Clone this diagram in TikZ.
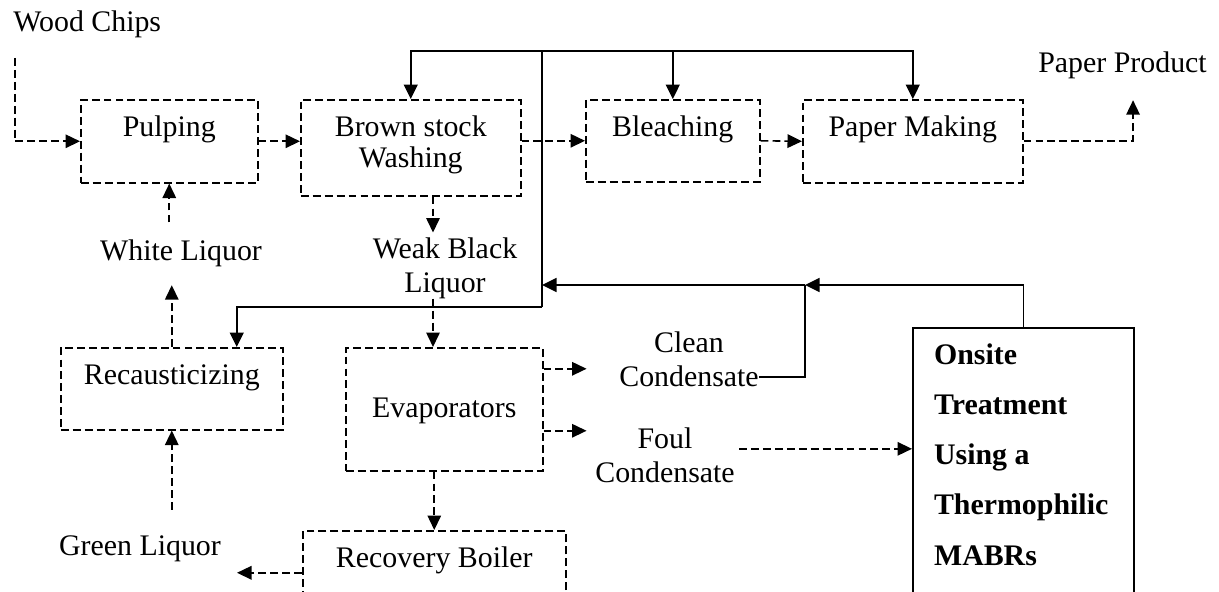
\documentclass[tikz,border=0pt]{standalone}
\usepackage{fontspec}
\setmainfont{Liberation Serif}
\usepackage{tikz}
\usetikzlibrary{arrows.meta, positioning}

\begin{document}
\begin{tikzpicture}[
    x=0.02cm, y=-0.02cm,
    font=\fontsize{17}{19.3}\selectfont,
    stage/.style={rectangle, draw, line width=0.9pt, dash pattern=on 4.5pt off 2.3pt,
                  inner sep=0pt, text height=0.74cm, anchor=north west, align=center},
    stream/.style={inner sep=0pt, anchor=base, align=center},
    treat/.style={rectangle, draw, line width=1.2pt, inner xsep=0.42cm, inner ysep=0pt,
                  anchor=north west, text width=3.58cm, align=flush left, text height=0.72cm,
                  text depth=5.2cm, font=\bfseries\fontsize{17}{28.6}\selectfont},
    flow/.style={-{Triangle[length=0.29cm, width=0.27cm]}, line width=0.9pt,
                 dash pattern=on 4.5pt off 2.3pt},
    pipe/.style={line width=0.9pt},
    feed/.style={pipe, -{Triangle[length=0.29cm, width=0.28cm]}}
  ]
    \path[use as bounding box] (0,0) rectangle (1219,591);
    \clip (0,0) rectangle (1219,591);

    % Process stages
    \node[stage, minimum width=3.54cm, text depth=0.92cm] (pulp)   at (80,99)   {Pulping};
    \node[stage, minimum width=4.4cm,  text height=1.36cm, text depth=0.56cm] (brown) at (300,99) {Brown stock\\[-1.5pt]Washing};
    \node[stage, minimum width=3.48cm, text depth=0.9cm]  (bleach) at (585,99)  {Bleaching};
    \node[stage, minimum width=4.4cm,  text depth=0.92cm] (paper)  at (802,99)  {Paper Making};
    \node[stage, minimum width=4.44cm, text depth=0.9cm]  (recaust) at (60,347) {Recausticizing};
    \node[stage, minimum width=3.94cm, text height=1.4cm, text depth=1.06cm] (evap) at (345,347) {Evaporators};
    \node[stage, minimum width=5.26cm, text depth=1.4cm]  (boiler) at (302,530) {Recovery Boiler};
    \node[treat] (onsite) at (912,327) {Onsite\\Treatment\\Using a\\Thermophilic\\MABRs};

    % Streams
    \node[stream, anchor=base west] (wood)    at (13,32)   {Wood Chips};
    \node[stream, anchor=base west] (product) at (1038,73) {Paper Product};
    \node[stream] (white) at (181,260) {White Liquor};
    \node[stream] (weak)  at (445,292) {Weak Black\\Liquor};
    \node[stream] (green) at (140,555) {Green Liquor};
    \node[stream] (clean) at (689,386) {Clean\\Condensate};
    \node[stream] (foul)  at (665,482) {Foul\\Condensate};

    \coordinate (chips) at (15,58);
    \coordinate (hub)   at (542,51);
    \coordinate (split) at (542,307);
    \coordinate (ret)   at (805,285);

    % Fibre line
    \draw[flow] (chips) |- (pulp.west);
    \draw[flow] (pulp.east) -- (pulp.east -| brown.west);
    \draw[flow] (bleach.west -| brown.east) -- (bleach.west);
    \draw[flow] (bleach.east) -- (paper.west);
    \draw[flow] (paper.east) -| ([xshift=0.21cm, yshift=-0.41cm]product.south);

    % Liquor loop
    \draw[flow] ([xshift=-0.24cm]weak.north |- brown.south) -- ([xshift=-0.24cm, yshift=0.09cm]weak.north);
    \draw[flow] ([xshift=-0.24cm]weak.south) -- ([xshift=-0.24cm]weak.south |- evap.north);
    \draw[flow] ([yshift=0.81cm]evap.east) -- ++(43,0);
    \draw[flow] ([yshift=-0.43cm]evap.east) -- ++(43,0);
    \draw[flow] (evap.south -| boiler.north) -- (boiler.north);
    \draw[flow] ([yshift=-0.1cm]boiler.base west) -- ++(-65,0);
    \draw[flow] ([yshift=0.5cm]green.north -| recaust.south) -- (recaust.south);
    \draw[flow] (recaust.north) -- ([yshift=-0.37cm]white.south -| recaust.north);
    \draw[flow] ([yshift=0.33cm]white.north -| pulp.south) -- (pulp.south);
    \draw[flow] ([xshift=0.08cm, yshift=0.12cm]foul.east) -- ([yshift=0.12cm]foul.east -| onsite.west);

    % Water reuse
    \draw[pipe] (split) -- (hub);
    \draw[feed] (hub) -| (brown.north);
    \draw[feed] (hub) -| (bleach.north);
    \draw[feed] (hub) -| (paper.north);
    \draw[feed] (split) -| ([xshift=1.3cm]recaust.north);
    \draw[feed] (onsite.north) |- (ret);
    \draw[feed] (ret) -- (ret -| split);
    \draw[pipe] ([yshift=-0.36cm]clean.east) -| (ret);
  \end{tikzpicture}
\end{document}
